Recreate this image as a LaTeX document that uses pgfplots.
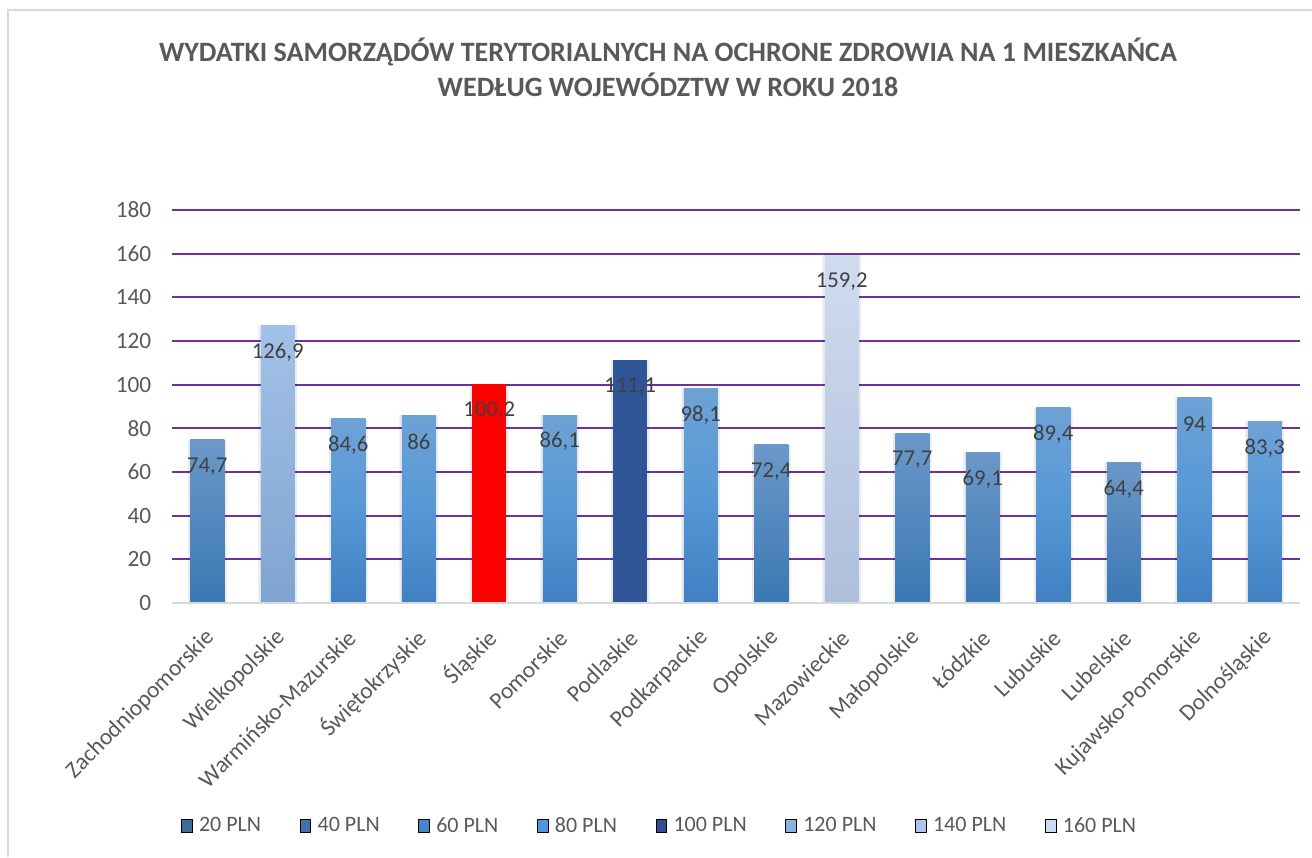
\documentclass[border=0pt]{standalone}
\usepackage{pgfplots}
\pgfplotsset{compat=1.18}
\usepackage{fontspec}
\setmainfont{Carlito}

\definecolor{txt}{HTML}{595959}
\definecolor{lab}{HTML}{404040}
\definecolor{gridp}{HTML}{7030A0}
\definecolor{axisg}{HTML}{D9D9D9}
\definecolor{framec}{HTML}{D9D9D9}
% bar shades
\definecolor{aTop}{HTML}{6B98C9}\definecolor{aBot}{HTML}{3B78B3}
\definecolor{bTop}{HTML}{6EA2D6}\definecolor{bMid}{HTML}{5698D6}\definecolor{bBot}{HTML}{4080C2}
\definecolor{navy}{HTML}{2F5597}
\definecolor{cTop}{HTML}{A3C1E8}\definecolor{cBot}{HTML}{7FA4D1}
\definecolor{dTop}{HTML}{CFDCF0}\definecolor{dBot}{HTML}{AEBFDC}
% legend shades
\definecolor{l20}{HTML}{3D6B9C}
\definecolor{l40}{HTML}{3E73B0}
\definecolor{l60}{HTML}{4585C8}
\definecolor{l80}{HTML}{4F96DA}
\definecolor{l100}{HTML}{2E5090}
\definecolor{l120}{HTML}{8DB0DE}
\definecolor{l140}{HTML}{ADC5E8}
\definecolor{l160}{HTML}{CBDAEF}

\pgfplotsset{
  onebar/.style={ybar, bar width=25.5pt, bar shift=0pt, draw=none, forget plot, nodes near coords},
  barA/.style={onebar, top color=aTop, bottom color=aBot},
  barB/.style={onebar, top color=bTop, bottom color=bBot, middle color=bMid},
  barC/.style={onebar, top color=cTop, bottom color=cBot},
  barD/.style={onebar, top color=dTop, bottom color=dBot},
}

\begin{document}
\begin{tikzpicture}
\useasboundingbox (0,0) rectangle (984pt,642.75pt);
\fill[white] (0,0) rectangle (984pt,642.75pt);
\draw[framec, line width=1.2pt] (6pt,0) -- (6pt,635.25pt) -- (984pt,635.25pt);

\node[font=\bfseries\fontsize{21}{26.5}\selectfont, text=txt, align=center]
  at (501pt,592pt) {WYDATKI SAMORZĄDÓW TERYTORIALNYCH NA OCHRONE ZDROWIA NA 1 MIESZKAŃCA\\WEDŁUG WOJEWÓDZTW W ROKU 2018};

\begin{axis}[
  at={(129pt,190.5pt)}, anchor=south west,
  scale only axis, width=846pt, height=294.75pt,
  xmin=-0.5, xmax=15.5, ymin=0, ymax=180,
  ytick={0,20,...,180},
  xtick={0,...,15},
  xticklabels={Zachodniopomorskie,Wielkopolskie,Warmińsko-Mazurskie,Świętokrzyskie,Śląskie,Pomorskie,Podlaskie,Podkarpackie,Opolskie,Mazowieckie,Małopolskie,Łódzkie,Lubuskie,Lubelskie,Kujawsko-Pomorskie,Dolnośląskie},
  ymajorgrids, grid style={color=gridp, line width=1.5pt},
  axis line style={draw=none}, tick style={draw=none},
  /pgf/number format/assume math mode=true,
  /pgf/number format/.cd, use comma, fixed, precision=1, 1000 sep={}, /pgfplots/.cd,
  xticklabel style={xshift=5pt, yshift=-21pt, rotate=45, anchor=east, font=\fontsize{17.5}{20}\selectfont, text=txt},
  yticklabel style={font=\fontsize{17.5}{20}\selectfont, text=txt, xshift=-12pt},
  nodes near coords style={font=\fontsize{17}{19}\selectfont, text=lab, anchor=center, yshift=-20pt},
  legend columns=8,
  legend style={at={(0.4326,-0.567)}, anchor=center, draw=none, fill=none,
    font=\fontsize{16.5}{19}\selectfont, text=txt,
    /tikz/every even column/.append style={column sep=27pt}},
  legend image code/.code={\fill[#1] (0pt,-5pt) rectangle (8pt,5pt); \path (11pt,0pt);},
]
% soft shadow behind the bars
\addplot[ybar, bar width=29pt, bar shift=0pt, draw=none, fill=black, fill opacity=0.08, forget plot]
  coordinates {(0,74.7) (1,126.9) (2,84.6) (3,86) (4,100.2) (5,86.1) (6,111.1) (7,98.1)
               (8,72.4) (9,159.2) (10,77.7) (11,69.1) (12,89.4) (13,64.4) (14,94) (15,83.3)};

\addplot[barA] coordinates {(0,74.7)};
\addplot[barC] coordinates {(1,126.9)};
\addplot[barB] coordinates {(2,84.6)};
\addplot[barB] coordinates {(3,86)};
\addplot[onebar, fill=red] coordinates {(4,100.2)};
\addplot[barB] coordinates {(5,86.1)};
\addplot[onebar, fill=navy] coordinates {(6,111.1)};
\addplot[barB] coordinates {(7,98.1)};
\addplot[barA] coordinates {(8,72.4)};
\addplot[barD] coordinates {(9,159.2)};
\addplot[barA] coordinates {(10,77.7)};
\addplot[barA] coordinates {(11,69.1)};
\addplot[barB] coordinates {(12,89.4)};
\addplot[barA] coordinates {(13,64.4)};
\addplot[barB] coordinates {(14,94)};
\addplot[barB] coordinates {(15,83.3)};

\draw[axisg, line width=1.5pt] (axis cs:-0.5,0) -- (axis cs:15.5,0);

\addlegendimage{fill=l20}\addlegendentry{20 PLN}
\addlegendimage{fill=l40}\addlegendentry{40 PLN}
\addlegendimage{fill=l60}\addlegendentry{60 PLN}
\addlegendimage{fill=l80}\addlegendentry{80 PLN}
\addlegendimage{fill=l100}\addlegendentry{100 PLN}
\addlegendimage{fill=l120}\addlegendentry{120 PLN}
\addlegendimage{fill=l140}\addlegendentry{140 PLN}
\addlegendimage{fill=l160}\addlegendentry{160 PLN}
\end{axis}
\end{tikzpicture}
\end{document}
